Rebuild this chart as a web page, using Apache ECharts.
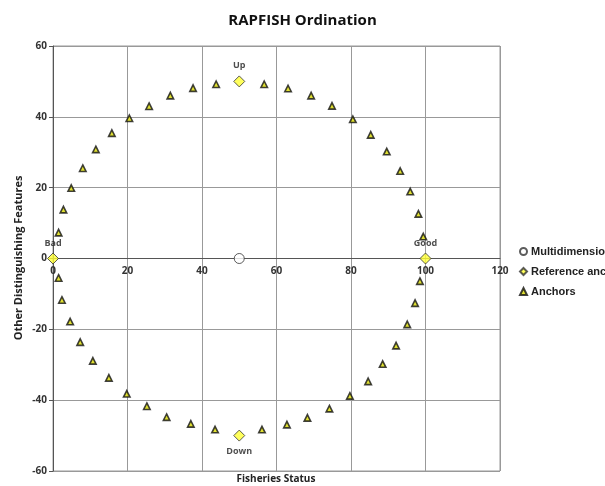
<!DOCTYPE html>
<html><head><meta charset="utf-8">
<script src="https://cdn.jsdelivr.net/npm/echarts@6/dist/echarts.min.js"></script>
<style>html,body{margin:0;padding:0;background:#fff}#c{width:605px;height:486px}</style>
</head><body><div id="c"></div>
<script>
var xTicks = [0, 20, 40, 60, 80, 100, 120];
var yTicks = [-60, -40, -20, 0, 20, 40, 60];
var mdsX = [50];
var mdsY = [0];
var refNames = ['Bad', 'Good', 'Up', 'Down'];
var refX = [0, 100, 50, 50];
var refY = [0, 0, 50, -50];
var anchorX = [1.5, 2.8, 4.9, 8.0, 11.5, 15.8, 20.5, 25.8, 31.5, 37.6, 43.8, 56.7, 63.1, 69.3, 74.9, 80.5, 85.3, 89.6, 93.2, 95.9, 98.1, 99.4,
  98.5, 97.2, 95.1, 92.1, 88.5, 84.6, 79.7, 74.2, 68.3, 62.8, 56.1, 43.5, 37.0, 30.5, 25.2, 19.8, 15.0, 10.7, 7.3, 4.6, 2.4, 1.5];
var anchorY = [7.3, 13.8, 19.9, 25.5, 30.8, 35.4, 39.6, 43.0, 46.0, 48.1, 49.2, 49.2, 48.0, 46.0, 43.1, 39.3, 34.9, 30.2, 24.7, 18.9, 12.6, 6.2,
  -6.4, -12.6, -18.6, -24.6, -29.8, -34.7, -38.8, -42.4, -45.0, -46.9, -48.3, -48.3, -46.7, -44.8, -41.7, -38.2, -33.7, -28.9, -23.6, -17.8, -11.7, -5.5];

function pairs(xs, ys) { return xs.map(function (x, i) { return [x, ys[i]]; }); }
var refData = refX.map(function (x, i) { return { value: [x, refY[i]], name: refNames[i],
  label: { position: refNames[i] === 'Down' ? 'bottom' : 'top' } }; });

var gridTop = 46, gridBottom = 15, H = 486;
var plotH = H - gridTop - gridBottom;
var zeroOffset = plotH * (0 - yTicks[0]) / (yTicks[yTicks.length - 1] - yTicks[0]);

var chart = echarts.init(document.getElementById('c'));
chart.setOption({
  animation: false,
  title: { text: 'RAPFISH Ordination', left: 'center', top: 8,
    textStyle: { fontSize: 15, fontWeight: 'bold', color: '#111', fontFamily: 'Open Sans, sans-serif' } },
  grid: { left: 53, right: 105, top: gridTop, bottom: gridBottom, show: true, borderColor: '#999', borderWidth: 1 },
  legend: {
    orient: 'vertical', left: 514, top: 241, itemGap: 9, itemWidth: 7, itemHeight: 7,
    textStyle: { fontSize: 11, fontWeight: 'bold', color: '#222', fontFamily: 'Liberation Sans Narrow, Liberation Sans, sans-serif', padding: [0, 0, 0, -1] },
    data: ['Multidimensional', 'Reference anchors', 'Anchors']
  },
  xAxis: {
    type: 'value', min: xTicks[0], max: xTicks[xTicks.length - 1], interval: 20,
    offset: -zeroOffset,
    axisLine: { onZero: false, lineStyle: { color: '#555' } },
    axisTick: { show: false },
    axisLabel: { fontSize: 10, fontWeight: 'bold', color: '#333', margin: 8, fontFamily: 'Open Sans, sans-serif' },
    splitLine: { lineStyle: { color: '#999', width: 1 } }
  },
  yAxis: {
    type: 'value', min: yTicks[0], max: yTicks[yTicks.length - 1], interval: 20,
    axisLine: { show: true, onZero: false, lineStyle: { color: '#555' } },
    axisTick: { show: true, length: 4, lineStyle: { color: '#555' } },
    axisLabel: { fontSize: 10, fontWeight: 'bold', color: '#333', margin: 6, fontFamily: 'Open Sans, sans-serif' },
    splitLine: { lineStyle: { color: '#999', width: 1 } }
  },
  graphic: [
    { type: 'text', x: 276, y: 474, style: { text: 'Fisheries Status', align: 'center', font: 'bold 10px Open Sans, sans-serif', fill: '#222' } },
    { type: 'text', rotation: Math.PI / 2, x: 13, y: 258, style: { text: 'Other Distinguishing Features', align: 'center', font: 'bold 11px Open Sans, sans-serif', fill: '#222' } }
  ],
  series: [
    { name: 'Anchors', type: 'scatter', symbol: 'triangle', symbolSize: 6.5, z: 3,
      itemStyle: { color: '#d8d800', borderColor: '#111', borderWidth: 1.6 },
      data: pairs(anchorX, anchorY) },
    { name: 'Reference anchors', type: 'scatter', symbol: 'diamond', symbolSize: 11, z: 4,
      itemStyle: { color: '#ffff33', borderColor: '#333', borderWidth: 1 },
      label: { show: true, formatter: '{b}', fontSize: 9, fontWeight: 'bold', color: '#222', distance: 5, fontFamily: 'Open Sans, sans-serif' },
      data: refData },
    { name: 'Multidimensional', type: 'scatter', symbol: 'circle', symbolSize: 10, z: 5,
      itemStyle: { color: '#fff', borderColor: '#333', borderWidth: 1 },
      data: pairs(mdsX, mdsY) }
  ]
});
</script></body></html>
